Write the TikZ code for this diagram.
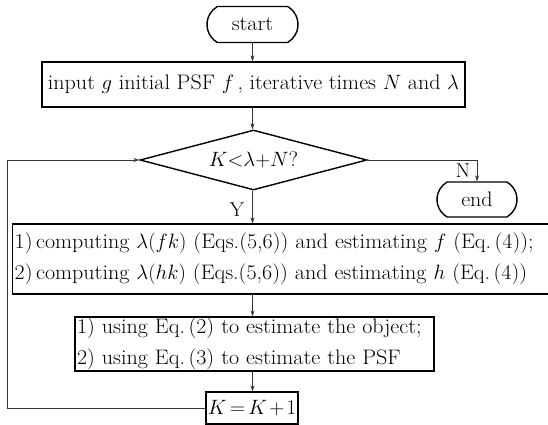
\documentclass[tikz,border=0pt]{standalone}
\usepackage{fontspec}
\setmainfont{Latin Modern Roman}[FakeStretch=1.05]
\usetikzlibrary{shapes.geometric,shapes.misc,arrows.meta}
\tikzset{
  base/.style={draw=black, line width=1.4pt, inner sep=0pt, font=\fontsize{21}{31}\selectfont},
  term/.style={base, rounded rectangle, rounded rectangle arc length=120},
  procbox/.style={base, rectangle},
  decision/.style={base, diamond, aspect=3.78},
  conn/.style={draw=black!80, line width=0.9pt, -{Stealth[length=6pt,width=4pt]}},
  lbl/.style={inner sep=0pt, font=\fontsize{20}{22}\selectfont}
}
\begin{document}
\begin{tikzpicture}[x=1pt,y=-1pt]
\useasboundingbox (0,0) rectangle (548,425);
\clip (0,0) rectangle (548,425);
\node[term, minimum width=91pt, minimum height=36pt] (start) at (252.5,24.5) {start};
\node[procbox, minimum width=423pt, minimum height=45pt] (input) at (253.5,84.5)
  {input $g$ initial PSF $f$\,, iterative times $N$ and $\lambda$};
\node[decision, minimum width=227pt, minimum height=60pt] (dec) at (253.5,160) {$K{<}\lambda{+}N$?};
\node[term, minimum width=80pt, minimum height=35pt] (end) at (477,199.5) {end};
\node[procbox, anchor=west, minimum width=548pt, minimum height=70pt, text width=544pt, align=left, inner xsep=2pt] (comp) at (12,259)
  {1)\,computing $\lambda(fk)$ (Eqs.(5,6)) and estimating $f$ (Eq.\,(4));\\
   2)\,computing $\lambda(hk)$ (Eqs.(5,6)) and estimating $h$ (Eq.\,(4))};
\node[procbox, minimum width=359pt, minimum height=54pt, text width=355pt, align=left, inner xsep=2pt] (est) at (254.5,344)
  {1) using Eq.\,(2) to estimate the object;\\
   2) using Eq.\,(3) to estimate the PSF};
\node[procbox, minimum width=92pt, minimum height=32pt] (inc) at (252,408) {$K\mskip3mu{=}\mskip3mu K\mskip2mu{+}\mskip2mu 1$};
\coordinate (bl) at (7,408);
\coordinate (tl) at (7,160);
\coordinate (tr) at (477,160);
\coordinate (ax) at (252.5,0);
\draw[conn] (start.south -| ax) -- (input.north -| ax);
\draw[conn] (input.south -| ax) -- (dec.north -| ax);
\draw[conn] (dec.south -| ax) -- (comp.north -| ax);
\draw[conn] (comp.south -| ax) -- (est.north -| ax);
\draw[conn] (est.south -| ax) -- (inc.north -| ax);
\draw[conn] (inc.west) -- (bl) -- (tl) -- (dec.west);
\draw[conn] (dec.east) -- (tr) -- (end.north);
\node[lbl] (nlab) at (463,171) {N};
\node[lbl] (ylab) at (237,210) {Y};
\end{tikzpicture}
\end{document}
